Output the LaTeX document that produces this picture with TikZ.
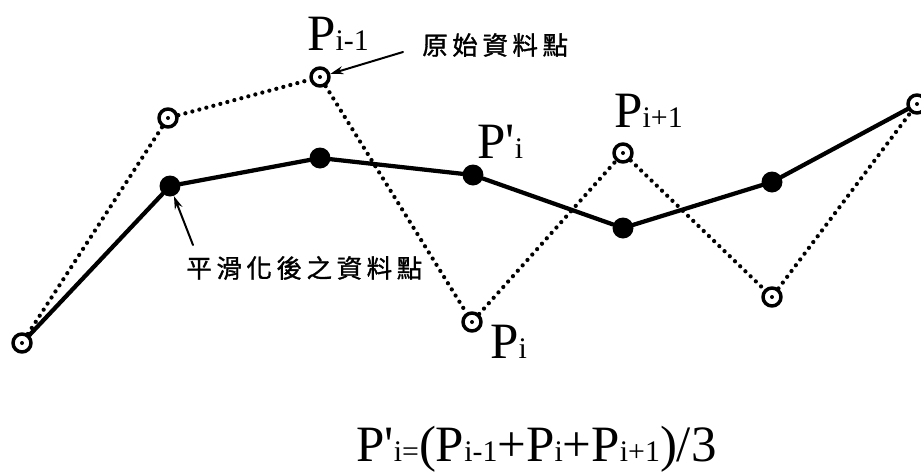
\documentclass[tikz,border=0pt]{standalone}
\usepackage{fontspec}
\setmainfont{Liberation Serif}
\newfontfamily\cjk[LetterSpace=18,FakeBold=1.2]{Noto Sans CJK TC}
\usetikzlibrary{arrows.meta,calc}

% small subscript set on the baseline
\newcommand\ssub[1]{{\fontsize{17pt}{17pt}\selectfont #1}}

\begin{document}
\begin{tikzpicture}[x=0.02cm,y=-0.02cm,line cap=round,line join=round]
  % ----- styles -----
  \tikzset{
    orig/.style={circle,draw=black,line width=0.07cm,minimum size=0.36cm,inner sep=0pt},
    smooth/.style={circle,fill=black,minimum size=0.42cm,inner sep=0pt},
    raw/.style={draw=black,line width=0.085cm,dash pattern=on 0pt off 0.145cm},
    fit/.style={draw=black,line width=0.085cm},
    pointer/.style={draw=black,line width=0.04cm,-{Stealth[length=0.26cm,width=0.16cm]}},
    lbl/.style={inner sep=0pt,anchor=base west,font=\fontsize{29pt}{29pt}\selectfont},
    note/.style={inner sep=0pt,anchor=west,font=\cjk\fontsize{14.5pt}{14.5pt}\selectfont}
  }

  \useasboundingbox (0,0) rectangle (921,471);

  % ----- original data points -----
  \foreach \n/\x/\y in {1/22/343, 2/168/118, 3/320/77, 4/472/322, 5/623/153, 6/772/297, 7/917/104}{
    \node[orig] (o\n) at (\x,\y) {};
    \fill (o\n) circle (0.04cm);
  }

  % ----- smoothed points -----
  \foreach \n/\x/\y in {1/170/186, 2/320/158, 3/473/175, 4/623/228, 5/772/182}{
    \node[smooth] (s\n) at (\x,\y) {};
  }

  % dotted polyline through the originals
  \draw[raw] (o1) -- (o2) -- (o3) -- (o4) -- (o5) -- (o6) -- (o7);

  % solid polyline through the smoothed points
  \draw[fit] (o1) -- (s1) -- (s2) -- (s3) -- (s4) -- (s5) -- (o7);

  % ----- point labels -----
  \node[lbl] (lprev) at (307,50) {P\ssub{i-1}};
  \node[lbl] (lnew)  at (477,158) {P\textquotesingle\ssub{i}};
  \node[lbl] (lnext) at (614,127) {P\ssub{i+1}};
  \node[lbl] (lcur)  at (490,358) {P\ssub{i}};

  % ----- notes with pointers -----
  \node[note] (norig) at (422,45) {原始資料點};
  \node[note] (nsmooth) at (186,268) {平滑化後之資料點};
  \coordinate (torig) at (403,52);
  \coordinate (tsmooth) at (193,245);
  \draw[pointer] (torig) -- (o3);
  \draw[pointer] (tsmooth) -- (s1);

  % ----- formula -----
  \node[lbl] (formula) at (356,461) {P\textquotesingle\ssub{i=}(P\ssub{i-1}+P\ssub{i}+P\ssub{i+1})/3};

\end{tikzpicture}
\end{document}
